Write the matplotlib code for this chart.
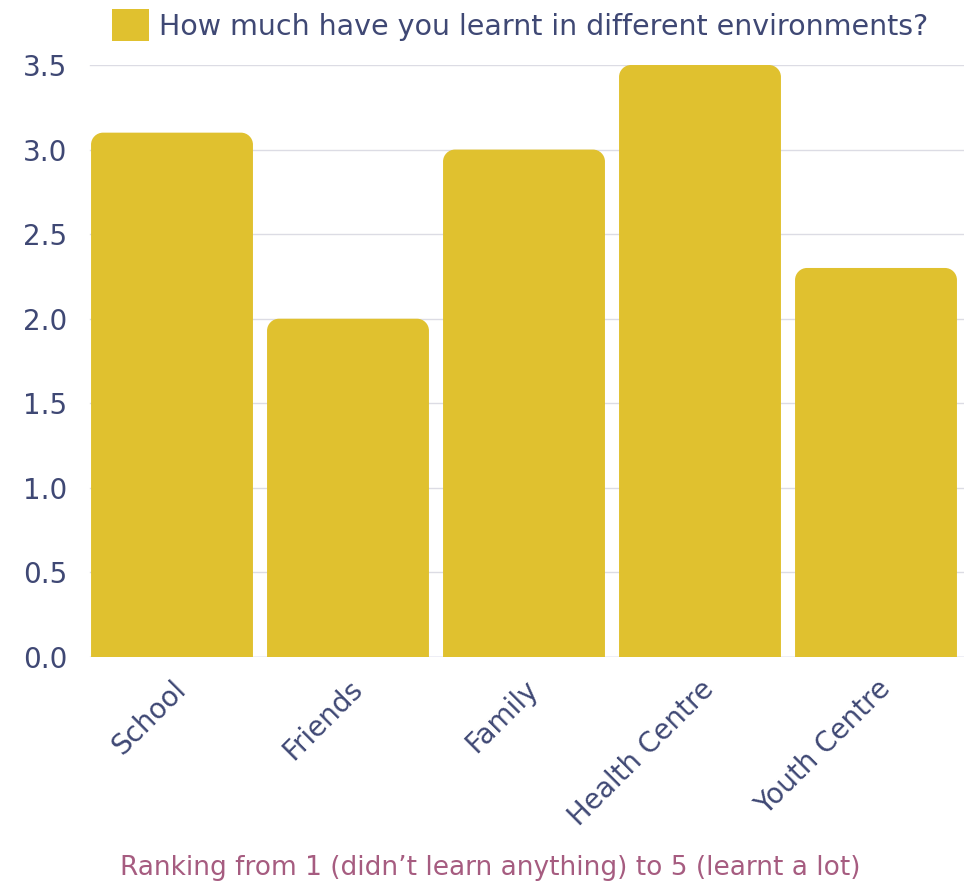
import matplotlib
matplotlib.use("Agg")
import matplotlib.pyplot as plt
from matplotlib.path import Path
from matplotlib.patches import PathPatch, Patch

categories = ["School", "Friends", "Family", "Health Centre", "Youth Centre"]
values = [3.1, 2.0, 3.0, 3.5, 2.3]
yticks = [0.0, 0.5, 1.0, 1.5, 2.0, 2.5, 3.0, 3.5]
legend_label = "How much have you learnt in different environments?"
xlabel = "Ranking from 1 (didn\u2019t learn anything) to 5 (learnt a lot)"

BAR = "#E0C12F"
TXT = "#3F4874"
XL = "#A65C80"
GRID = "#DCDCE4"

plt.rcParams['font.family'] = ['DejaVu Sans']

W, H = 966, 885
fig = plt.figure(figsize=(W / 100, H / 100), dpi=100)
left, right, top, bottom = 84, 964, 65, 657
ax = fig.add_axes([left / W, 1 - bottom / H, (right - left) / W, (bottom - top) / H])

ax.set_xlim(-0.5, len(categories) - 0.5)
ax.set_ylim(0, 3.5)

bw = 0.92
bars = ax.bar(range(len(categories)), values, width=bw, color=BAR, alpha=0)

# rounded-top bars
px_per_x = (right - left) / len(categories)
px_per_y = (bottom - top) / 3.5
r = 12
rx, ry = r / px_per_x, r / px_per_y
k = 0.5523
for b in bars:
    x0 = b.get_x(); x1 = x0 + b.get_width(); h = b.get_height()
    verts = [(x0, 0), (x0, h - ry),
             (x0, h - ry + k * ry), (x0 + rx - k * rx, h), (x0 + rx, h),
             (x1 - rx, h),
             (x1 - rx + k * rx, h), (x1, h - ry + k * ry), (x1, h - ry),
             (x1, 0), (x0, 0)]
    codes = [Path.MOVETO, Path.LINETO,
             Path.CURVE4, Path.CURVE4, Path.CURVE4,
             Path.LINETO,
             Path.CURVE4, Path.CURVE4, Path.CURVE4,
             Path.LINETO, Path.CLOSEPOLY]
    ax.add_patch(PathPatch(Path(verts, codes), facecolor=BAR, edgecolor='none', zorder=3))

ax.set_yticks(yticks)
ax.set_yticklabels([f"{v:.1f}" for v in yticks])
ax.set_xticks(range(len(categories)))
ax.set_xticklabels(categories, rotation=45, ha='right', va='top', rotation_mode='anchor')
ax.tick_params(axis='both', length=0, labelsize=20, colors=TXT)
ax.tick_params(axis='y', pad=12)
ax.tick_params(axis='x', pad=13)
for lab in ax.get_xticklabels():
    lab.set_color(TXT)
for lab in ax.get_yticklabels():
    lab.set_color(TXT)

gx0 = 6 / (right - left)
for yv in yticks[1:]:
    ax.axhline(yv, xmin=gx0, xmax=1, color=GRID, lw=1, zorder=0)
ax.axhline(0, xmin=gx0, xmax=1, color="#A9ADCF", lw=1, zorder=1)
for s in ['top', 'right', 'left', 'bottom']:
    ax.spines[s].set_visible(False)

leg = fig.legend(handles=[Patch(facecolor=BAR, edgecolor='none', label=legend_label)],
                 loc='center', bbox_to_anchor=(520 / W, 1 - 25 / H), frameon=False,
                 fontsize=20.5, handlelength=1.3, handleheight=1.3, handletextpad=0.35)
for t in leg.get_texts():
    t.set_color(TXT)

fig.text(490 / W, 1 - 868 / H, xlabel, ha='center', va='center', fontsize=19, color=XL)

fig.savefig("out.png", dpi=100)
